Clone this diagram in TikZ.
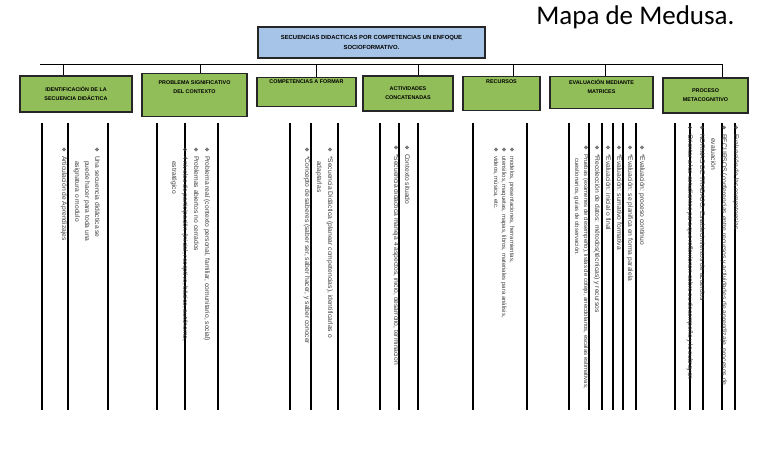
\documentclass[tikz,border=0pt]{standalone}
\usepackage{fontspec}
\setmainfont{Liberation Sans}
\newfontfamily\titlefont{Carlito}
\newfontfamily\sym{DejaVu Sans}
\usetikzlibrary{positioning}
\definecolor{boxgreen}{RGB}{146,190,90}
\definecolor{boxblue}{RGB}{166,196,232}
\tikzset{
  head/.style={draw=black!85, line width=1.2pt, fill=boxgreen, align=center,
    font=\fontsize{5.4}{9}\selectfont\bfseries, inner sep=1pt},
  item/.style={rotate=-90, anchor=base west, inner sep=0pt,
    font=\fontsize{6.7}{8}\selectfont, text=black!75},
  small/.style={font=\fontsize{6}{7}\selectfont},
  rule/.style={line width=1.1pt},
}
\newcommand{\bul}{{\sym\fontsize{5.5}{6}\selectfont\char"2756}}
\begin{document}
\begin{tikzpicture}[x=1pt,y=-1pt]
\useasboundingbox (0,0) rectangle (768,467);
%
\node[anchor=north east, font=\titlefont\fontsize{27}{30}\selectfont] (mapa) at (738,2) {Mapa de Medusa.};
\node[draw=black!85, line width=1.2pt, fill=boxblue, minimum width=227, minimum height=31,
  align=center, font=\fontsize{5.9}{10}\selectfont\bfseries] (root) at (371.5,42.5)
  {SECUENCIAS DIDACTICAS POR COMPETENCIAS UN ENFOQUE\\SOCIOFORMATIVO.};
%
\node[head, minimum width=112, minimum height=36] (ident) at (76,94) {IDENTIFICACIÓN DE LA\\SECUENCIA DIDÁCTICA};
\node[head, minimum width=105, minimum height=43, anchor=north] (probl) at (194.5,73) {PROBLEMA SIGNIFICATIVO\\DEL CONTEXTO\\[6pt]};
\node[head, minimum width=99, minimum height=29, anchor=north] (compe) at (306.5,77) {COMPETENCIAS A FORMAR\\[12pt]};
\node[head, minimum width=90, minimum height=35] (activ) at (408,93.5) {ACTIVIDADES\\CONCATENADAS};
\node[head, minimum width=77, minimum height=34, anchor=north] (recur) at (501.5,76) {RECURSOS\\[14pt]};
\node[head, minimum width=103, minimum height=32, anchor=north] (evalu) at (601.5,76) {EVALUACIÓN MEDIANTE\\MATRICES\\[2pt]};
\node[head, minimum width=85, minimum height=35] (proce) at (705.5,95.5) {PROCESO\\METACOGNITIVO};
%
\coordinate (busL) at (40,64);
\coordinate (busR) at (722,64);
\draw[line width=0.8pt] (busL) -- (busR);
\foreach \n/\x in {ident/63,probl/200,compe/316,activ/418,recur/513,evalu/605,proce/722}
  \draw[line width=0.8pt] (\x,64) -- (\n.north -| \x,0);
%
\foreach \x in {42,68,108,157,185,218,290,311,338,380,399,418,473,527,569,589,602,613,623,636,675,690,703,722,735}
  \draw[rule] (\x,123) -- (\x,410);
%
% identificacion
\node[item] (i1) at (95,147) {\bul\hspace{4pt}Una secuencia didáctica se};
\node[item] (i2) at (85,161) {puede hacer para toda una};
\node[item] (i3) at (75,161) {asignatura o modulo};
\node[item] (i4) at (62,147) {\bul\hspace{4pt}Articulación de Aprendizajes};
% problema
\node[item] (p1) at (205,147) {\bul\hspace{4pt}Problema real (contexto personal, familiar, comunitario, social)};
\node[item] (p2) at (194,147) {\bul\hspace{4pt}Problemas abiertos no cerrados};
\node[item] (p3) at (183,147) {\bul\hspace{4pt}4 niveles de participación (inicial, receptivo, básico, autónomo,};
\node[item] (p4) at (172,161) {estratégico};
% competencias
\node[item] (c1) at (328,147) {\bul\hspace{4pt}*Secuencia Didáctica (planear competencias), identificarlas o};
\node[item] (c2) at (317,161) {adaptarlas};
\node[item] (c3) at (305,147) {\bul\hspace{4pt}*Concepto de saberes (saber ser, saber hacer, y saber conocer};
% actividades
\node[item] (a1) at (405,145) {\bul\hspace{4pt}Contexto situado};
\node[item] (a2) at (394,145) {\bul\hspace{4pt}*Secuencia didáctica maneja 4 aspectos, inicio, desarrollo, terminación};
% recursos
\node[item, small] (r1) at (510,147) {\bul\hspace{4pt}modelos, presentaciones, herramientas,};
\node[item, small] (r2) at (502,147) {\bul\hspace{4pt}utensilios, maquetas, mapas, libros, materiales para análisis,};
\node[item, small] (r3) at (494,147) {\bul\hspace{4pt}videos, música, etc.};
% evaluacion
\node[item] (e1) at (640,145) {\bul\hspace{4pt}*Evaluación: proceso continuo};
\node[item] (e2) at (628,145) {\bul\hspace{4pt}*Evaluación: se planifica en forma paralela};
\node[item] (e3) at (617,145) {\bul\hspace{4pt}*Evaluación: sumativo formativa};
\node[item] (e4) at (606,145) {\bul\hspace{4pt}*Evaluación: inicial o final};
\node[item] (e5) at (595,145) {\bul\hspace{4pt}*Recolección de datos: métodos(técnicas) y recursos};
\node[item, small] (e6) at (584,145) {\bul\hspace{4pt}Pruebas (exámenes de desempeño), listas de cotejo, anecdotarios, escalas estimativas,};
\node[item, small] (e7) at (575,158) {cuestionarios, guías de observación.};
% proceso
\node[item] (m1) at (734,125) {\bul\hspace{4pt}Evaluación de las competencias};
\node[item] (m2) at (722,125) {\bul\hspace{4pt}RECURSOS (conferencias entre recursos y actividades de aprendizaje, procesos de};
\node[item] (m3) at (711,138) {evaluación};
\node[item] (m4) at (700,125) {\bul\hspace{4pt}NORMAS DE TRABAJO: Establecimientos de acuerdos};
\node[item] (m5) at (688,125) {\bul\hspace{4pt}Orientar a los estudiantes para que reflexionen sobre su desempeño y lo subrayen};
\end{tikzpicture}
\end{document}
